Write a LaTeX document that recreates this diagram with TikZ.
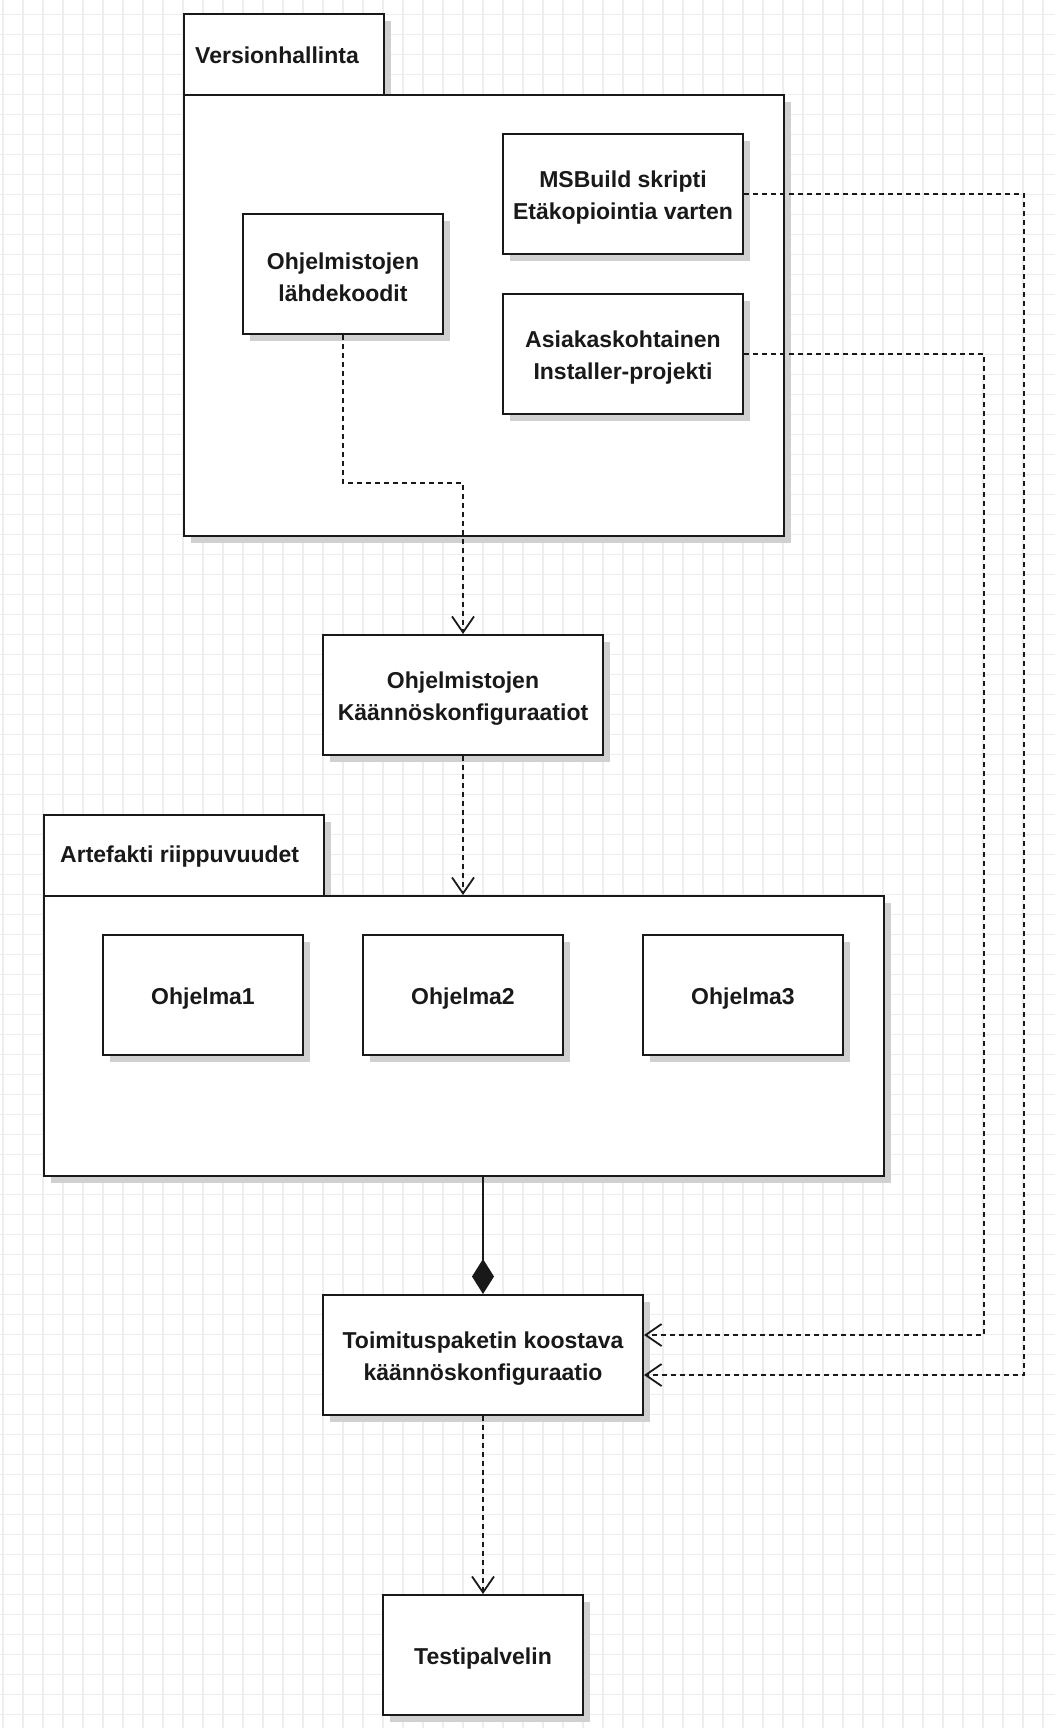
\documentclass[tikz,border=0pt]{standalone}
\usepackage{fontspec}
\setmainfont{Liberation Sans}
\usetikzlibrary{arrows.meta,shadows,calc}
\definecolor{gridc}{RGB}{238,238,238}
\definecolor{shc}{RGB}{208,208,208}
\definecolor{linec}{RGB}{25,25,25}
\tikzset{
  gridline/.style={draw=gridc, line width=1.3pt},
  shadowed/.style={general shadow={fill=shc, draw=none, shadow xshift=7pt, shadow yshift=-7pt}},
  box/.style={draw=linec, fill=white, line width=2pt, shadowed, inner sep=0pt},
  boxtxt/.style={align=center, font=\bfseries\fontsize{23}{32}\selectfont, inner sep=0pt, text=black!90},
  pkg/.style={draw=linec, fill=white, line width=2pt, shadowed, inner sep=0pt, anchor=north west},
  tabtxt/.style={font=\bfseries\fontsize{23}{32}\selectfont, inner sep=0pt, anchor=west, text=black!90},
  dep/.style={draw=linec, line width=1.5pt, dash pattern=on 5pt off 4pt,
    -{Straight Barb[length=16pt,width=22pt,line width=1.8pt]}},
  comp/.style={draw=linec, line width=1.8pt, -{Diamond[length=35pt,width=22pt,fill=linec]}},
}
\begin{document}
\begin{tikzpicture}[x=1pt,y=-1pt]
\fill[white] (0,0) rectangle (1055,1728);
\useasboundingbox (0,0) rectangle (1055,1728);
% grid
\foreach \gx in {3,23,...,1055} \draw[gridline] (\gx,0) -- (\gx,1728);
\foreach \gy in {14.5,34.5,...,1728} \draw[gridline] (0,\gy) -- (1055,\gy);

% Versionhallinta package
\node[pkg, minimum width=200pt, minimum height=81pt] (vtab) at (183,13) {};
\node[pkg, minimum width=600pt, minimum height=441pt] (vbody) at (183,94) {};
\node[tabtxt] (vtxt) at ([xshift=12pt,yshift=-1pt]vtab.west) {Versionhallinta};

\node[box, minimum width=200pt, minimum height=120pt] (src) at (343,274) {};
\node[boxtxt] (srct) at ([yshift=-3.3pt]src.center) {Ohjelmistojen\\lähdekoodit};
\node[box, minimum width=240pt, minimum height=120pt] (msb) at (623,194) {};
\node[boxtxt] (msbt) at ([yshift=-3.3pt]msb.center) {MSBuild skripti\\Etäkopiointia varten};
\node[box, minimum width=240pt, minimum height=120pt] (asi) at (623,354) {};
\node[boxtxt] (asit) at ([yshift=-3.3pt]asi.center) {Asiakaskohtainen\\Installer-projekti};

% Käännöskonfiguraatiot
\node[box, minimum width=280pt, minimum height=120pt] (kk) at (463,695) {};
\node[boxtxt] (kkt) at ([yshift=-3.3pt]kk.center) {Ohjelmistojen\\Käännöskonfiguraatiot};

% Artefakti package
\node[pkg, minimum width=280pt, minimum height=81pt] (atab) at (43,814) {};
\node[pkg, minimum width=840pt, minimum height=280pt] (abody) at (43,895) {};
\node[tabtxt] (atxt) at ([xshift=17pt,yshift=-1pt]atab.west) {Artefakti riippuvuudet};

\node[box, minimum width=200pt, minimum height=120pt] (o1) at (203,995) {};
\node[boxtxt] (o1t) at ([yshift=-3.3pt]o1.center) {Ohjelma1};
\node[box, minimum width=200pt, minimum height=120pt] (o2) at (463,995) {};
\node[boxtxt] (o2t) at ([yshift=-3.3pt]o2.center) {Ohjelma2};
\node[box, minimum width=200pt, minimum height=120pt] (o3) at (743,995) {};
\node[boxtxt] (o3t) at ([yshift=-3.3pt]o3.center) {Ohjelma3};

% Toimituspaketti
\node[box, minimum width=320pt, minimum height=120pt] (toim) at (483,1355) {};
\node[boxtxt] (toimt) at ([yshift=-3.3pt]toim.center) {Toimituspaketin koostava\\käännöskonfiguraatio};
\node[box, minimum width=200pt, minimum height=120pt] (test) at (483,1655) {};
\node[boxtxt] (testt) at ([yshift=-3.3pt]test.center) {Testipalvelin};

% connectors
\draw[dep] (src.south) -- ++(0,148) -| (kk.north);
\draw[dep] (kk.south) -- (kk.south |- abody.north);
\draw[comp] (toim.north |- abody.south) -- (toim.north);
\coordinate (c1) at (1024,1375);
\coordinate (c2) at (984,1335);
\draw[dep] (msb.east) -| (c1) -- (toim.east |- c1);
\draw[dep] (asi.east) -| (c2) -- (toim.east |- c2);
\draw[dep] (toim.south) -- (test.north);
\end{tikzpicture}
\end{document}
